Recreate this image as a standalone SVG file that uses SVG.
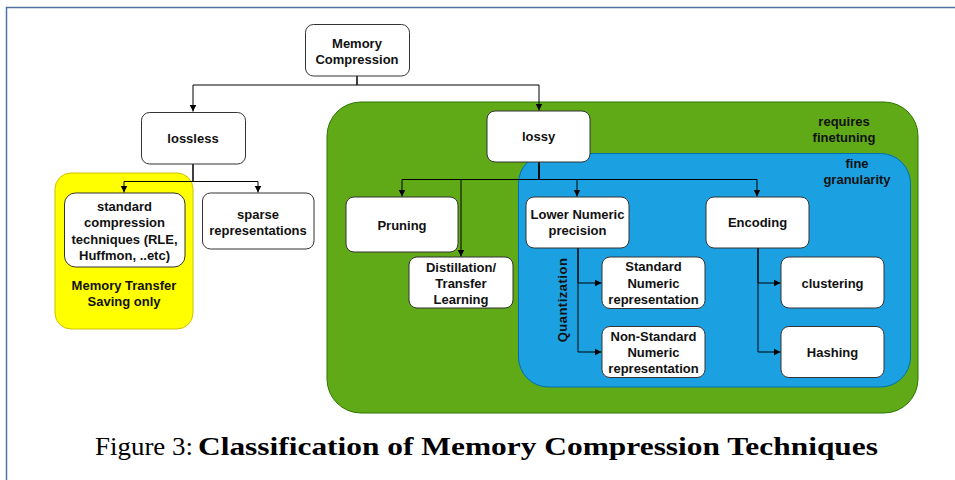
<svg xmlns="http://www.w3.org/2000/svg" width="955" height="480" viewBox="0 0 955 480">
<defs>
<marker id="arr" markerUnits="userSpaceOnUse" markerWidth="8" markerHeight="8" refX="7" refY="4" orient="auto">
<path d="M0,0.5 L7,4 L0,7.5 Z" fill="#000"/>
</marker>
<style>
.box{fill:#fff;stroke:#333;stroke-width:1}
.lbl{font-family:"Liberation Sans",Arial,sans-serif;font-size:13px;font-weight:bold;fill:#111;text-anchor:middle}
.edge{fill:none;stroke:#000;stroke-width:1;marker-end:url(#arr)}
.line{fill:none;stroke:#000;stroke-width:1}
</style>
</defs>
<rect width="955" height="480" fill="#fff"/>
<path d="M6.5,480 V7.5 H955" fill="none" stroke="#4f72a0" stroke-width="1.5"/>

<g id="containers">
<rect id="memory-transfer" x="55" y="173" width="138" height="156" rx="16" fill="#ffff00" stroke="#cfc000"/>
<rect id="requires-finetuning" x="327" y="102" width="591" height="311" rx="34" fill="#60a917" stroke="#2d7600"/>
<rect id="fine-granularity" x="518.5" y="153.5" width="392" height="233.5" rx="30" fill="#1ba1e2" stroke="#006eaf"/>
<text class="lbl" x="124" y="289.5">Memory Transfer</text>
<text class="lbl" x="124" y="305.5">Saving only</text>
<text class="lbl" x="844" y="125.5">requires</text>
<text class="lbl" x="844" y="141.5">finetuning</text>
<text class="lbl" x="857" y="167.5">fine</text>
<text class="lbl" x="857" y="183.5">granularity</text>
<text class="lbl" transform="translate(567,300) rotate(-90)" x="0" y="0" style="letter-spacing:0.5px">Quantization</text>
</g>

<g id="connectors">
<path class="edge" d="M357,76 V85 H193 V111.5"/>
<path class="edge" d="M357,76 V85 H539 V110.5"/>
<path class="edge" d="M193,164 V181.5 H124 V192.5"/>
<path class="edge" d="M193,164 V181.5 H258 V192.5"/>
<path class="edge" d="M539,162 V179.5 H402 V196.5"/>
<path class="edge" d="M539,162 V179.5 H461 V256.5"/>
<path class="edge" d="M539,162 V179.5 H577 V196.5"/>
<path class="edge" d="M539,162 V179.5 H757 V196.5"/>
<path class="edge" d="M578,248 V283 H601.5"/>
<path class="edge" d="M578,248 V352 H601.5"/>
<path class="edge" d="M758,248 V283 H780.5"/>
<path class="edge" d="M758,248 V352 H780.5"/>
</g>

<g id="memory-compression">
<rect class="box" x="305.5" y="24.5" width="104" height="51.5" rx="8" stroke="#555"/>
<text class="lbl" x="357" y="47.5">Memory</text>
<text class="lbl" x="357" y="63.5">Compression</text>
</g>
<g id="lossless">
<rect class="box" x="141.5" y="112.5" width="104" height="51.5" rx="8" stroke="#555"/>
<text class="lbl" x="193" y="142.5">lossless</text>
</g>
<g id="standard-compression">
<rect class="box" x="64.5" y="193" width="120.5" height="74" rx="11"/>
<text class="lbl" x="124.5" y="210.5">standard</text>
<text class="lbl" x="124.5" y="227">compression</text>
<text class="lbl" x="124.5" y="243.5">techniques (RLE,</text>
<text class="lbl" x="124.5" y="260">Huffmon, ..etc)</text>
</g>
<g id="sparse">
<rect class="box" x="202.5" y="193" width="111.5" height="56" rx="8" stroke="#666"/>
<text class="lbl" x="258" y="218.5">sparse</text>
<text class="lbl" x="258" y="234.5">representations</text>
</g>
<g id="lossy">
<rect class="box" x="487" y="111" width="103" height="51" rx="8"/>
<text class="lbl" x="538.5" y="141">lossy</text>
</g>
<g id="pruning">
<rect class="box" x="346" y="197" width="112" height="55" rx="8"/>
<text class="lbl" x="402" y="229.5">Pruning</text>
</g>
<g id="distillation">
<rect class="box" x="409" y="257" width="104" height="51" rx="8"/>
<text class="lbl" x="461" y="271.5">Distillation/</text>
<text class="lbl" x="461" y="287.5">Transfer</text>
<text class="lbl" x="461" y="303.5">Learning</text>
</g>
<g id="lower-numeric">
<rect class="box" x="526" y="197" width="103" height="51" rx="8"/>
<text class="lbl" x="577.5" y="218.5">Lower Numeric</text>
<text class="lbl" x="577.5" y="235">precision</text>
</g>
<g id="encoding">
<rect class="box" x="706" y="197" width="103" height="51" rx="8"/>
<text class="lbl" x="757.5" y="226.5">Encoding</text>
</g>
<g id="standard-numeric">
<rect class="box" x="602" y="257" width="103" height="51.5" rx="8"/>
<text class="lbl" x="653.5" y="270.5">Standard</text>
<text class="lbl" x="653.5" y="287.5">Numeric</text>
<text class="lbl" x="653.5" y="303.5">representation</text>
</g>
<g id="non-standard-numeric">
<rect class="box" x="602" y="326.5" width="103" height="51" rx="8"/>
<text class="lbl" x="653.5" y="340.5">Non-Standard</text>
<text class="lbl" x="653.5" y="356.5">Numeric</text>
<text class="lbl" x="653.5" y="372.5">representation</text>
</g>
<g id="clustering">
<rect class="box" x="781" y="257" width="103" height="51" rx="8"/>
<text class="lbl" x="832.5" y="287.5">clustering</text>
</g>
<g id="hashing">
<rect class="box" x="781" y="326.5" width="103" height="51" rx="8"/>
<text class="lbl" x="832.5" y="356.5">Hashing</text>
</g>

<g id="caption">
<text x="95" y="455" font-family="'Liberation Serif','Times New Roman',serif" font-size="26" fill="#000" textLength="98" lengthAdjust="spacingAndGlyphs">Figure 3:</text>
<text x="198" y="455" font-family="'Liberation Serif','Times New Roman',serif" font-size="26" font-weight="bold" fill="#000" textLength="680" lengthAdjust="spacingAndGlyphs">Classification of Memory Compression Techniques</text>
</g>
</svg>
